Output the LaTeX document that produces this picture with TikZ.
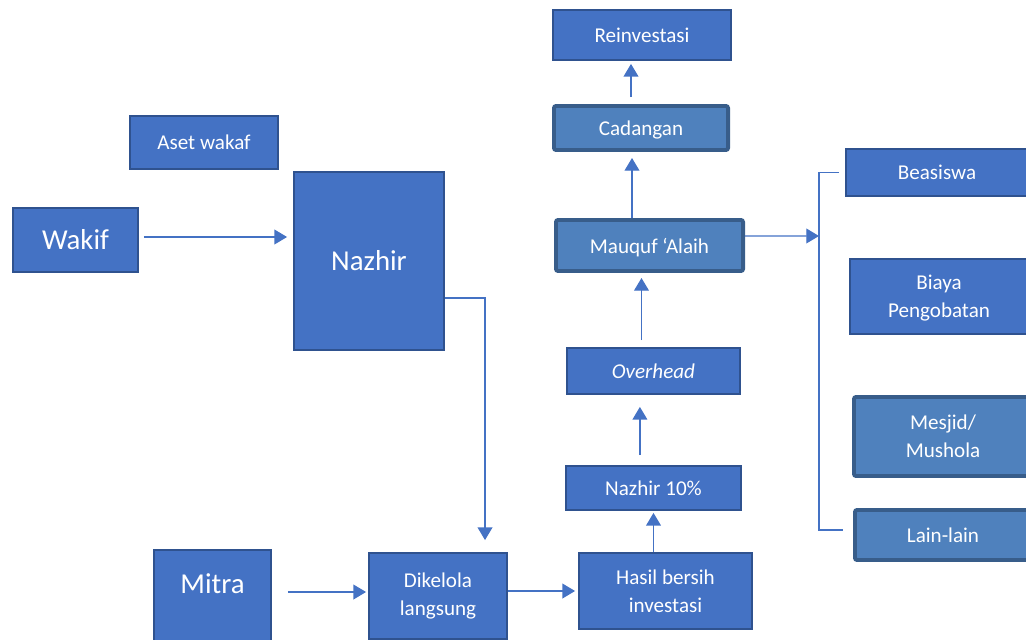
\documentclass[tikz,border=0pt]{standalone}
\usepackage{fontspec}
\setmainfont{Carlito}
\usetikzlibrary{arrows.meta}
\definecolor{boxfill}{HTML}{4472C4}
\definecolor{boxline}{HTML}{2F528F}
\definecolor{bluefill}{HTML}{4F81BD}
\definecolor{blueline}{HTML}{385D8A}
\begin{document}
\begin{tikzpicture}[x=0.025cm,y=-0.025cm,
	blok/.style={draw=boxline,fill=boxfill,line width=1.3pt,text=white,align=center,inner sep=0pt,font=\fontsize{15}{20}\selectfont},
	tebal/.style={blok,draw=blueline,fill=bluefill,line width=2.8pt,rounded corners=1.5pt},
	besar/.style={blok,font=\fontsize{20.5}{25}\selectfont},
	panah/.style={draw=boxfill,line width=0.9pt,-{Triangle[length=9pt,width=10.5pt]}},
	garis/.style={draw=boxfill,line width=0.9pt}]
\useasboundingbox (0,0) rectangle (1026,639);
\clip (0,0) rectangle (1026,639);
\node[besar,minimum width=3.125cm,minimum height=1.6cm] (wakif) at (75.5,240) {Wakif};
\node[blok,minimum width=3.7cm,minimum height=1.325cm] (aset) at (204,142.5) {Aset wakaf};
\node[besar,minimum width=3.75cm,minimum height=4.45cm] (nazhir) at (369,261) {Nazhir};
\node[besar,minimum width=2.925cm,minimum height=2.7cm] (mitra) at (212.5,604) {};
\node[text=white,inner sep=0pt,font=\fontsize{20.5}{25}\selectfont] (mitrateks) at (212.5,584) {Mitra};
\node[blok,minimum width=3.45cm,minimum height=2.15cm] (dikelola) at (438,596) {Dikelola\\langsung};
\node[blok,minimum width=4.325cm,minimum height=1.9cm] (hasil) at (665.5,591) {Hasil bersih\\investasi};
\node[blok,minimum width=4.375cm,minimum height=1.1cm] (nazhirx) at (653.5,488) {Nazhir 10\%};
\node[blok,minimum width=4.325cm,minimum height=1.15cm] (overhead) at (653.5,371) {\itshape Overhead};
\node[tebal,minimum width=4.675cm,minimum height=1.275cm,text depth=0pt] (mauquf) at (649.5,245.5) {Mauquf ‘Alaih};
\node[tebal,minimum width=4.35cm,minimum height=1.1cm,text depth=0pt] (cadangan) at (641,128) {Cadangan};
\node[blok,minimum width=4.45cm,minimum height=1.25cm] (reinvestasi) at (642,35) {Reinvestasi};
\node[blok,minimum width=4.55cm,minimum height=1.175cm] (beasiswa) at (937,172.5) {Beasiswa};
\node[blok,minimum width=4.45cm,minimum height=1.875cm,text depth=0pt] (biaya) at (939,296.5) {Biaya\\Pengobatan};
\node[tebal,minimum width=4.45cm,minimum height=1.975cm] (mesjid) at (943,436.5) {Mesjid/\\Mushola};
\node[tebal,minimum width=4.4cm,minimum height=1.25cm] (lainlain) at (943,535) {Lain-lain};
\coordinate (bus) at (819,236);
\draw[panah,shorten <=0.125cm,shorten >=0.15cm] ([yshift=0.075cm]wakif.east) -- ([yshift=0.075cm]wakif.east -| nazhir.west);
\draw[panah,shorten >=0.3cm] ([yshift=-0.925cm]nazhir.east) -| ([xshift=1.175cm]dikelola.north);
\draw[panah,shorten <=0.4cm,shorten >=0.05cm] ([yshift=0.1cm]mitra.east |- dikelola.west) -- ([yshift=0.1cm]dikelola.west);
\draw[panah,shorten >=0.075cm] (dikelola.east |- hasil.west) -- (hasil.west);
\draw[panah,shorten >=0.05cm] (nazhirx.south |- hasil.north) -- (nazhirx.south);
\draw[panah,shorten <=0.25cm,shorten >=0.3cm] ([xshift=-0.34cm]nazhirx.north) -- ([xshift=-0.34cm]overhead.south);
\draw[panah,shorten <=0.175cm,shorten >=0.125cm] ([xshift=-0.3cm]overhead.north) -- ([xshift=-0.3cm]overhead.north |- mauquf.south);
\draw[panah,shorten >=0.15cm] ([xshift=-0.225cm]cadangan.south |- mauquf.north) -- ([xshift=-0.225cm]cadangan.south);
\draw[panah,shorten <=0.175cm,shorten >=0.075cm] ([xshift=-0.25cm]cadangan.north) -- ([xshift=-0.25cm]cadangan.north |- reinvestasi.south);
\draw[panah] ([yshift=0.24cm]mauquf.east) -- (bus);
\draw[garis] ([xshift=-0.15cm]beasiswa.west) -| (bus) |- ([xshift=-0.25cm,yshift=0.125cm]lainlain.west);
\end{tikzpicture}
\end{document}
